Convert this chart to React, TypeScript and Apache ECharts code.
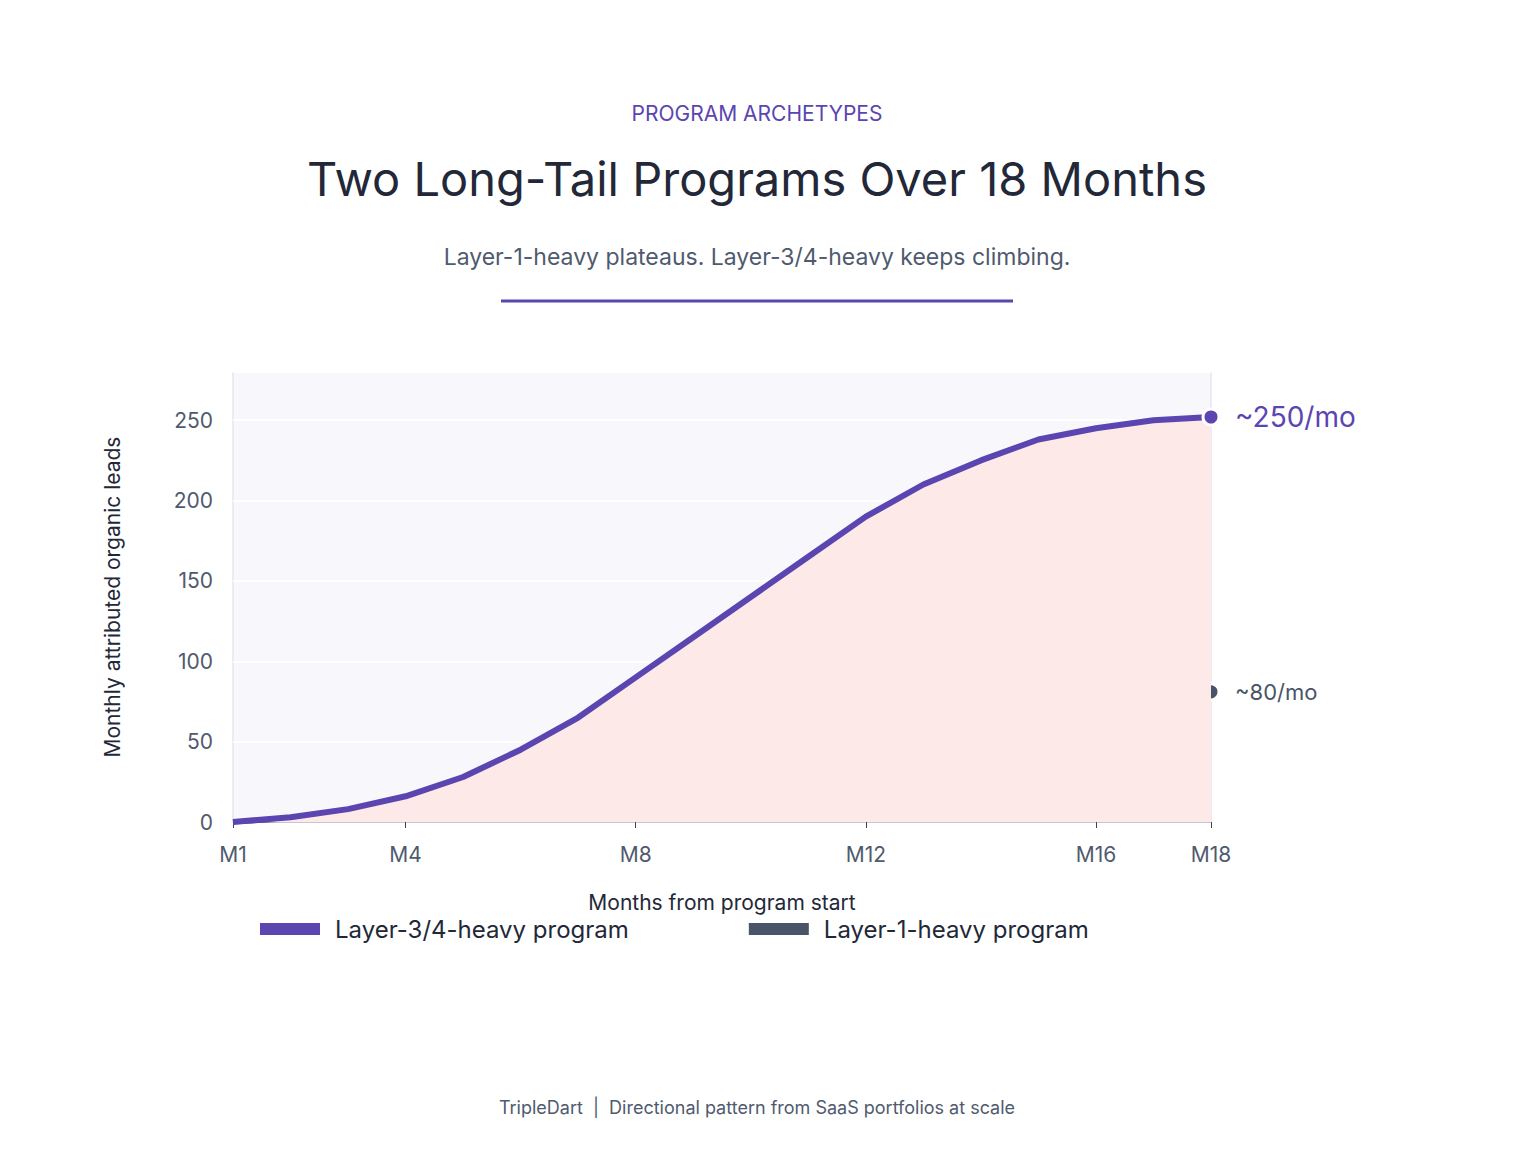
import { useEffect, useRef } from "react";
import * as echarts from "echarts";

const months = Array.from({ length: 18 }, (_, i) => `M${i + 1}`);
const shownMonths = ["M1", "M4", "M8", "M12", "M16", "M18"];
const layer34 = [0, 3, 8, 16, 28, 45, 65, 90, 115, 140, 165, 190, 210, 225, 238, 245, 250, 252];
const layer1 = [0, 2, 5, 10, 18, 28, 40, 55, 65, 72, 76, 78, 80, 80, 80, 80, 81, 81];

const PURPLE = "#5b45b0";
const SLATE = "#4a5468";
const FONT = "Inter, 'Noto Sans', sans-serif";

function withEndDot(values: number[], color: string) {
  return values.map((v, i) =>
    i === values.length - 1
      ? { value: v, symbol: "circle", symbolSize: 16, itemStyle: { color, borderColor: "#fff", borderWidth: 3 } }
      : { value: v, symbol: "none" }
  );
}

export default function App() {
  const ref = useRef<HTMLDivElement>(null);

  useEffect(() => {
    document.body.style.margin = "0";
    if (!ref.current) return;
    const chart = echarts.init(ref.current, undefined, { renderer: "svg" });
    const showIdx = (i: number) => shownMonths.includes(months[i]);
    chart.setOption({
      animation: false,
      backgroundColor: "#fff",
      textStyle: { fontFamily: FONT },
      title: [
        { text: "PROGRAM ARCHETYPES", left: "center", top: 98, textStyle: { color: PURPLE, fontSize: 21, fontWeight: "normal" } },
        { text: "Two Long-Tail Programs Over 18 Months", left: "center", top: 150, textStyle: { color: "#232838", fontSize: 47, fontWeight: "normal" } },
        { text: "Layer-1-heavy plateaus. Layer-3/4-heavy keeps climbing.", left: "center", top: 240, textStyle: { color: "#505a6e", fontSize: 23, fontWeight: "normal" } },
        { text: "TripleDart  |  Directional pattern from SaaS portfolios at scale", left: "center", top: 1093, textStyle: { color: "#505a6e", fontSize: 18, fontWeight: "normal" } },
      ],
      graphic: [
        { type: "line", shape: { x1: 501, y1: 301, x2: 1013, y2: 301 }, style: { stroke: PURPLE, lineWidth: 3 } },
      ],
      legend: {
        left: 255,
        top: 912,
        itemGap: 120,
        itemWidth: 60,
        itemHeight: 12,
        icon: "rect",
        textStyle: { color: "#232838", fontSize: 24, padding: [0, 0, 0, 10] },
        data: ["Layer-3/4-heavy program", "Layer-1-heavy program"],
      },
      grid: {
        left: 233, right: 303, top: 372, bottom: 344,
        show: true, backgroundColor: "#f8f7fc", borderColor: "#dcd9e6", borderWidth: 1,
      },
      xAxis: {
        type: "category",
        data: months,
        boundaryGap: false,
        name: "Months from program start",
        nameLocation: "middle",
        nameGap: 70,
        nameTextStyle: { color: "#232838", fontSize: 21 },
        axisLine: { lineStyle: { color: "#c8c6d2" } },
        axisTick: { interval: (i: number) => showIdx(i), length: 6, lineStyle: { color: "#444" } },
        axisLabel: { interval: (i: number) => showIdx(i), color: "#505a6e", fontSize: 21, margin: 22 },
        splitLine: { show: false },
      },
      yAxis: {
        type: "value",
        min: 0,
        max: 280,
        interval: 50,
        name: "Monthly attributed organic leads",
        nameLocation: "middle",
        nameGap: 110,
        nameTextStyle: { color: "#232838", fontSize: 21 },
        axisLine: { show: false },
        axisTick: { show: false },
        axisLabel: { color: "#505a6e", fontSize: 21, margin: 20, showMaxLabel: false },
        splitLine: { lineStyle: { color: "#ffffff", width: 2 } },
      },
      series: [
        {
          name: "Layer-3/4-heavy program",
          type: "line",
          data: withEndDot(layer34, PURPLE),
          lineStyle: { color: PURPLE, width: 6 },
          itemStyle: { color: PURPLE },
          areaStyle: { color: "#fde9e8", opacity: 1 },
          z: 3,
          endLabel: { show: true, formatter: "~250/mo", color: PURPLE, fontSize: 28, distance: 24 },
        },
        {
          name: "Layer-1-heavy program",
          type: "line",
          data: withEndDot(layer1, SLATE),
          lineStyle: { color: SLATE, width: 5 },
          itemStyle: { color: SLATE },
          z: 2,
          endLabel: { show: true, formatter: "~80/mo", color: SLATE, fontSize: 22, distance: 24 },
        },
      ],
    });
    return () => chart.dispose();
  }, []);

  return <div ref={ref} style={{ width: 1514, height: 1166 }} />;
}
